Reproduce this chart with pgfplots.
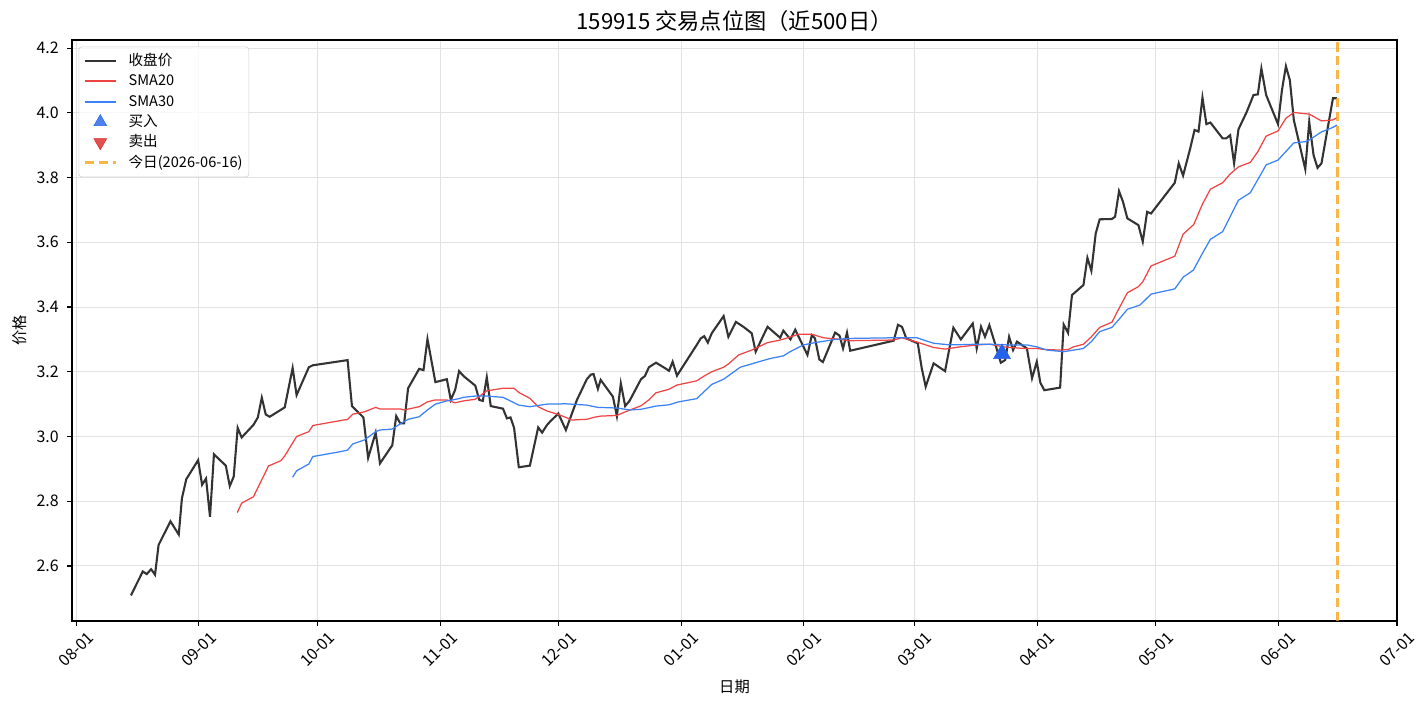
\documentclass[border=0pt]{standalone}
\usepackage{fontspec}
\setmainfont{Noto Sans CJK SC}
\usepackage{pgfplots}
\pgfplotsset{compat=1.18}
\definecolor{closec}{RGB}{51,51,51}
\definecolor{smared}{RGB}{239,68,68}
\definecolor{smablue}{RGB}{59,130,246}
\definecolor{buyc}{RGB}{37,99,235}
\definecolor{sellc}{RGB}{220,38,38}
\definecolor{todayc}{RGB}{245,158,11}
\definecolor{gridc}{RGB}{226,226,226}
\begin{document}
\begin{tikzpicture}
\useasboundingbox (-51.84pt,-61.2pt) rectangle (975.6pt,447.12pt);
\begin{axis}[
  at={(0,0)}, anchor=south west,
  width=954pt, height=418.32pt, scale only axis,
  xmin=-1.1, xmax=334, ymin=2.430, ymax=4.225,
  xtick={0,31,61,92,122,153,184,212,243,273,304,334},
  xticklabels={08-01,09-01,10-01,11-01,12-01,01-01,02-01,03-01,04-01,05-01,06-01,07-01},
  ytick={2.6,2.8,3.0,3.2,3.4,3.6,3.8,4.0,4.2},
  /pgf/number format/assume math mode=true,
  yticklabel style={/pgf/number format/fixed,/pgf/number format/fixed zerofill,/pgf/number format/precision=1, xshift=-2.5pt},
  tick label style={font=\fontsize{11.5}{13}\selectfont},
  xticklabel style={yshift=-17pt, rotate=45, anchor=center},
  tick pos=left, tick align=outside, major tick length=3.5pt,
  major tick style={line width=0.8pt, black},
  grid=major, major grid style={gridc, line width=0.7pt},
  axis line style={line width=0.8pt},
  title={159915 交易点位图（近500日）},
  title style={font=\fontsize{16}{19}\selectfont, at={(axis description cs:0.5,1)}, anchor=center, yshift=7.5pt},
  xlabel={日期},
  xlabel style={font=\fontsize{11}{13}\selectfont, at={(axis description cs:0.5,0)}, anchor=center, yshift=-47.5pt},
  ylabel={价格},
  ylabel style={font=\fontsize{11}{13}\selectfont, at={(axis description cs:-0.0392,0.5)}, anchor=center},
  legend image code/.code={\draw[mark repeat=2,mark phase=2,#1] plot coordinates {(0pt,0pt) (11pt,0pt) (22pt,0pt)};},
  legend cell align=left,
  legend style={at={(axis description cs:0.005,0.9885)}, anchor=north west,
    draw=black!18, rounded corners=2pt, fill=white, fill opacity=0.8, text opacity=1,
    font=\fontsize{10.5}{13}\selectfont, inner sep=3.5pt, row sep=1.1pt,
    nodes={inner sep=1pt, text height=9pt, text depth=2.5pt},
    /tikz/every odd column/.append style={column sep=7.5pt}},
]
\addplot[closec, line width=1.5pt,
  legend image code/.code={\draw[closec, line width=1.5pt, opacity=1] (0pt,0pt) -- (22pt,0pt);}] coordinates {
(13.8,2.509) (16.8,2.583) (17.8,2.575) (18.9,2.590) (19.9,2.573) (20.8,2.665)
(23.8,2.738) (25.9,2.697) (26.7,2.809) (27.8,2.868) (30.8,2.927) (31.8,2.851)
(32.8,2.870) (33.8,2.752) (34.8,2.945) (37.8,2.910) (38.8,2.847) (39.8,2.876)
(40.8,3.027) (41.8,2.997) (44.8,3.036) (45.9,3.059) (46.9,3.120) (47.9,3.068)
(48.9,3.061) (52.7,3.090) (54.7,3.212) (55.7,3.128) (58.8,3.214) (59.8,3.220)
(68.6,3.236) (69.7,3.094) (72.6,3.059) (73.8,2.934) (75.7,3.012) (76.8,2.917)
(79.9,2.973) (80.9,3.063) (81.9,3.041) (82.9,3.041) (83.9,3.149) (86.7,3.209)
(87.8,3.205) (88.8,3.301) (90.8,3.168) (93.7,3.177) (94.7,3.113) (95.8,3.144)
(96.8,3.202) (97.9,3.187) (100.9,3.157) (101.9,3.113) (102.8,3.110) (103.8,3.183)
(104.8,3.094) (107.9,3.086) (108.9,3.056) (109.8,3.059) (110.7,3.027) (111.9,2.905)
(114.7,2.910) (116.8,3.028) (117.8,3.012) (119.0,3.035) (119.8,3.046) (121.9,3.071)
(123.8,3.020) (126.6,3.113) (129.1,3.177) (130.1,3.191) (130.8,3.193) (131.9,3.147)
(132.6,3.175) (135.7,3.123) (136.7,3.063) (137.7,3.164) (138.8,3.094) (139.9,3.110)
(142.8,3.177) (143.8,3.187) (144.8,3.214) (146.6,3.228) (148.9,3.211) (149.9,3.203)
(150.8,3.231) (151.9,3.188) (156.9,3.283) (157.9,3.303) (158.8,3.310) (159.7,3.290)
(160.7,3.319) (163.7,3.372) (164.9,3.308) (166.8,3.354) (168.7,3.339) (170.8,3.319)
(171.8,3.262) (174.8,3.339) (178.0,3.305) (178.8,3.327) (180.6,3.300) (181.8,3.330)
(184.9,3.252) (186.0,3.313) (186.8,3.303) (187.9,3.238) (188.8,3.230) (191.9,3.321)
(193.0,3.312) (193.9,3.272) (194.9,3.321) (195.7,3.265) (206.7,3.296) (207.8,3.345)
(208.8,3.339) (209.9,3.303) (212.8,3.288) (213.8,3.211) (214.8,3.154) (216.8,3.226)
(219.7,3.202) (221.8,3.336) (223.7,3.300) (226.7,3.349) (227.7,3.272) (228.8,3.339)
(229.8,3.308) (230.9,3.344) (232.8,3.269) (233.8,3.228) (234.9,3.236) (235.9,3.308)
(236.9,3.267) (237.9,3.293) (240.4,3.272) (241.7,3.180) (242.9,3.231) (243.8,3.166)
(244.8,3.143) (248.8,3.151) (249.7,3.346) (250.8,3.320) (251.8,3.437) (254.7,3.468)
(255.7,3.552) (256.7,3.512) (257.8,3.627) (258.8,3.671) (261.9,3.672) (262.7,3.679)
(263.7,3.758) (264.7,3.725) (265.8,3.674) (268.6,3.653) (269.7,3.602) (270.8,3.694)
(271.8,3.689) (277.8,3.784) (278.8,3.844) (279.9,3.806) (281.7,3.890) (282.8,3.947)
(283.8,3.942) (284.8,4.047) (285.8,3.965) (286.8,3.970) (289.9,3.921) (290.8,3.921)
(291.8,3.931) (292.8,3.844) (293.9,3.949) (296.0,4.003) (297.7,4.055) (298.8,4.057)
(299.7,4.137) (300.9,4.055) (303.9,3.965) (304.9,4.070) (305.9,4.144) (306.9,4.101)
(307.9,3.978) (310.8,3.826) (311.8,3.972) (312.9,3.869) (313.9,3.830) (314.9,3.844)
(317.8,4.045) (318.8,4.045)
};
\addlegendentry{收盘价}
\addplot[smared, line width=0.9pt,
  legend image code/.code={\draw[smared, line width=1.4pt, opacity=1] (0pt,0pt) -- (22pt,0pt);}] coordinates {
(40.7,2.765) (41.8,2.794) (44.8,2.814) (48.6,2.909) (51.7,2.925) (52.7,2.940)
(55.7,3.000) (58.8,3.015) (59.8,3.034) (66.7,3.049) (68.6,3.053) (69.9,3.069)
(72.8,3.076) (75.7,3.090) (76.8,3.085) (81.9,3.085) (82.9,3.082) (86.7,3.092)
(88.8,3.107) (90.8,3.113) (93.7,3.113) (95.8,3.104) (97.9,3.110) (100.9,3.115)
(103.8,3.141) (107.9,3.149) (110.7,3.149) (111.9,3.136) (114.7,3.118) (116.8,3.092)
(119.0,3.079) (121.9,3.068) (123.8,3.059) (125.3,3.051) (129.1,3.053) (130.8,3.059)
(132.6,3.063) (136.7,3.065) (138.8,3.076) (142.8,3.095) (144.8,3.113) (146.6,3.135)
(149.9,3.146) (151.9,3.159) (156.9,3.172) (158.8,3.187) (160.7,3.200) (163.7,3.214)
(164.9,3.224) (167.5,3.252) (170.8,3.267) (174.8,3.290) (178.0,3.298) (180.7,3.308)
(182.6,3.316) (186.0,3.316) (188.9,3.305) (193.2,3.300) (195.7,3.296) (206.7,3.298)
(208.8,3.305) (212.8,3.291) (216.8,3.275) (219.7,3.270) (223.5,3.277) (227.7,3.283)
(231.0,3.285) (234.5,3.277) (239.6,3.272) (242.9,3.272) (244.6,3.269) (248.8,3.267)
(250.9,3.269) (252.2,3.277) (254.7,3.285) (256.7,3.308) (258.8,3.337) (261.9,3.353)
(263.7,3.396) (265.8,3.444) (268.6,3.463) (269.7,3.478) (271.8,3.527) (277.8,3.557)
(279.9,3.625) (282.6,3.655) (284.8,3.718) (286.8,3.764) (289.9,3.784) (291.8,3.811)
(293.9,3.833) (296.9,3.847) (298.8,3.880) (300.9,3.928) (303.9,3.944) (305.9,3.983)
(307.9,4.001) (311.8,3.996) (314.9,3.975) (317.8,3.978) (318.8,3.985)
};
\addlegendentry{SMA20}
\addplot[smablue, line width=0.9pt,
  legend image code/.code={\draw[smablue, line width=1.4pt, opacity=1] (0pt,0pt) -- (22pt,0pt);}] coordinates {
(54.7,2.874) (55.7,2.894) (58.8,2.915) (59.8,2.938) (66.7,2.953) (68.6,2.958)
(69.9,2.977) (72.8,2.989) (75.7,3.015) (76.8,3.020) (79.9,3.023) (81.9,3.039)
(83.9,3.053) (86.7,3.061) (88.8,3.082) (90.8,3.100) (93.7,3.110) (96.8,3.117)
(97.9,3.121) (100.9,3.125) (103.8,3.125) (107.9,3.121) (111.9,3.097) (114.7,3.092)
(119.0,3.100) (123.8,3.101) (129.1,3.097) (131.9,3.090) (136.7,3.088) (139.9,3.082)
(142.8,3.084) (146.6,3.094) (149.9,3.098) (152.3,3.107) (156.9,3.117) (160.7,3.161)
(163.7,3.177) (167.9,3.214) (171.8,3.228) (175.5,3.241) (178.8,3.249) (180.5,3.262)
(183.9,3.283) (186.8,3.290) (191.9,3.300) (195.7,3.303) (206.7,3.305) (212.6,3.305)
(216.8,3.288) (221.0,3.283) (227.7,3.285) (231.0,3.285) (235.3,3.283) (240.4,3.283)
(242.9,3.277) (245.5,3.267) (249.7,3.262) (254.7,3.272) (256.7,3.293) (258.8,3.324)
(261.9,3.337) (263.7,3.362) (265.8,3.393) (269.0,3.406) (271.8,3.440) (277.8,3.456)
(279.9,3.492) (282.5,3.514) (284.8,3.566) (286.8,3.609) (289.9,3.633) (293.9,3.730)
(296.9,3.753) (300.9,3.839) (303.9,3.854) (307.9,3.907) (310.8,3.911) (311.8,3.916)
(314.9,3.941) (317.8,3.955) (318.8,3.962)
};
\addlegendentry{SMA30}
\addplot[only marks, mark=triangle*, mark size=7pt, buyc, mark options={draw=buyc, fill=buyc},
  legend image post style={mark size=5.3pt}] coordinates {(234.1,3.2557)};
\addlegendentry{买入}
\addlegendimage{only marks, mark=triangle*, mark size=5.3pt, sellc, mark options={draw=sellc, fill=sellc, rotate=180}}
\addlegendentry{卖出}
\addplot[todayc, opacity=0.75, line width=1.8pt, dash pattern=on 6.7pt off 3.3pt,
  legend image code/.code={\draw[todayc, opacity=0.75, line width=1.8pt, dash pattern=on 6.7pt off 3.3pt] (0pt,0pt) -- (22pt,0pt);}] coordinates {(319.0,2.430) (319.0,4.225)};
\addlegendentry{今日(2026-06-16)}
\end{axis}
\end{tikzpicture}
\end{document}
